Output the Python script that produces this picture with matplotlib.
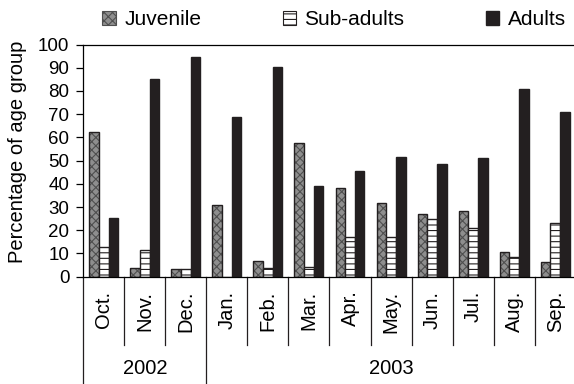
import numpy as np
import matplotlib.pyplot as plt
from matplotlib.patches import Patch
from matplotlib.lines import Line2D

plt.rcParams['font.family'] = ['Liberation Sans', 'DejaVu Sans']
plt.rcParams['hatch.linewidth'] = 0.8

months = ['Oct.', 'Nov.', 'Dec.', 'Jan.', 'Feb.', 'Mar.',
          'Apr.', 'May.', 'Jun.', 'Jul.', 'Aug.', 'Sep.']
years = ['2002', '2003']
year_start = [0, 3]   # first month index of each year

juvenile = [62.4, 3.9, 3.3, 31.1, 6.6, 57.4, 38.1, 31.7, 27.1, 28.1, 10.7, 6.3]
sub_adults = [12.9, 11.4, 3.3, 0.0, 3.6, 4.3, 16.9, 17.1, 24.7, 21.1, 8.6, 23.1]
adults = [25.3, 85.3, 94.5, 69.0, 90.4, 38.9, 45.4, 51.7, 48.4, 51.1, 81.0, 70.9]

fig = plt.figure(figsize=(5.74, 3.84), dpi=100)
ax = fig.add_axes([0.145, 0.2794, 0.858, 0.6046])

x = np.arange(len(months))
w = 0.235
dark = '#231f20'
grey = '#8e8e8e'

# juvenile: grey with a fine dotted texture
ax.bar(x - w, juvenile, w, color=grey, edgecolor='#4f4f4f', hatch='xxxx', linewidth=0)
ax.bar(x - w, juvenile, w, fill=False, edgecolor=dark, linewidth=1.0)
# sub-adults: white with horizontal stripes
ax.bar(x, sub_adults, w, color='white', edgecolor=dark, hatch='---', linewidth=0)
ax.bar(x, sub_adults, w, fill=False, edgecolor=dark, linewidth=1.0)
# adults: solid
ax.bar(x + w, adults, w, color=dark, edgecolor=dark, linewidth=1.0)

ax.set_xlim(-0.5, len(months) - 0.5)
ax.set_ylim(0, 100)
ax.set_yticks(range(0, 101, 10))
ax.tick_params(axis='y', labelsize=13.5, length=5, width=0.9, pad=5)
ax.spines['right'].set_visible(False)
for s in ['left', 'top', 'bottom']:
    ax.spines[s].set_linewidth(0.9)

# month labels with separators below the axis
ax.set_xticks(x)
ax.set_xticklabels(months, rotation=90, fontsize=14.5)
ax.tick_params(axis='x', length=0, pad=10)
trans = ax.get_xaxis_transform()
for k in range(len(months) + 1):
    pos = k - 0.5
    if k in year_start or k == len(months):
        y_end = -(384 * 0.2794) / (384 * 0.6046)
    else:
        y_end = -68 / (384 * 0.6046)
    ax.add_line(Line2D([pos, pos], [0, y_end], transform=trans, color=dark,
                       linewidth=0.9, clip_on=False))

# year labels
bounds = year_start + [len(months)]
for i, yr in enumerate(years):
    cx = (bounds[i] + bounds[i + 1] - 1) / 2
    ax.text(cx, -(368 - 276.7) / (384 * 0.6046), yr, transform=trans,
            ha='center', va='center', fontsize=14.5)

fig.text(0.031, 0.605, 'Percentage of age group', rotation=90,
         ha='center', va='center', fontsize=14.5)

handles = [
    Patch(facecolor=grey, edgecolor='#4f4f4f', hatch='xxxx', linewidth=0.8),
    Patch(facecolor='white', edgecolor=dark, hatch='---', linewidth=0.8),
    Patch(facecolor=dark, edgecolor=dark),
]
fig.legend(handles, ['Juvenile', 'Sub-adults', 'Adults'], loc='center',
           bbox_to_anchor=(0.582, 0.948), ncol=3, frameon=False, fontsize=15,
           handlelength=0.65, handleheight=0.65, handletextpad=0.4,
           columnspacing=3.9, borderpad=0)

fig.savefig('out.png', dpi=100)
